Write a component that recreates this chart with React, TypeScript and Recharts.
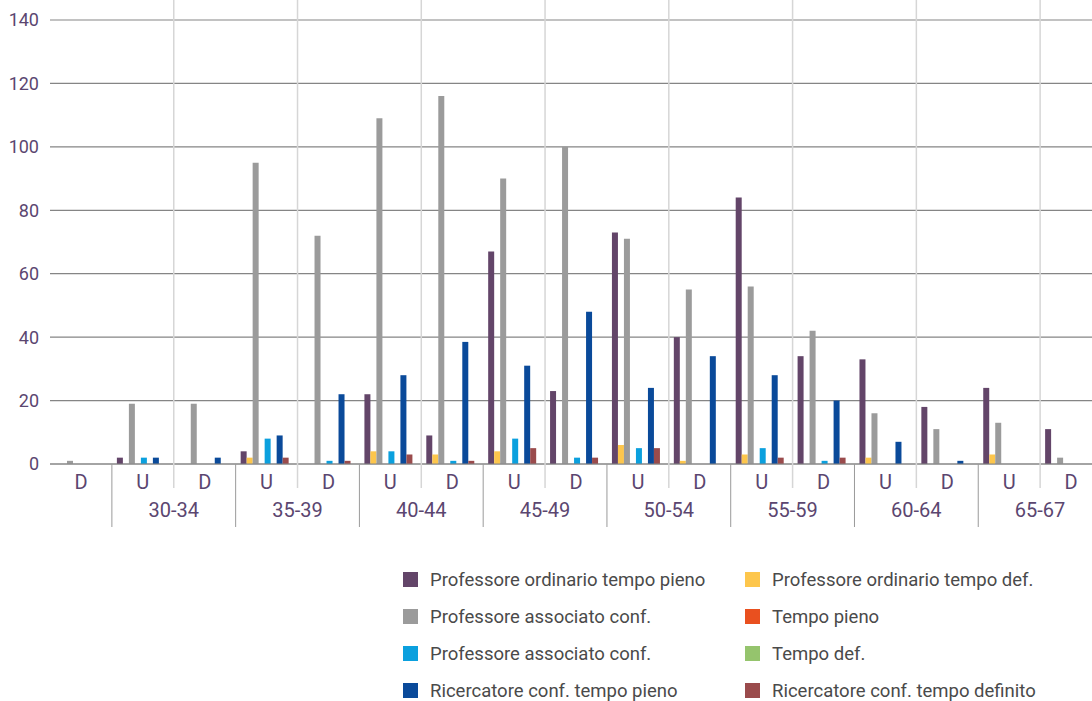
import React from "react";
import { BarChart, Bar, XAxis, YAxis, CartesianGrid, Legend } from "recharts";

// U/D per categoria, con fascia d'età
const sexLabels = ["D", "U", "D", "U", "D", "U", "D", "U", "D", "U", "D", "U", "D", "U", "D", "U", "D"];
const ageGroups = ["", "30-34", "30-34", "35-39", "35-39", "40-44", "40-44", "45-49", "45-49", "50-54", "50-54", "55-59", "55-59", "60-64", "60-64", "65-67", "65-67"];

const ordinarioPieno = [0, 2, 0, 4, 0, 22, 9, 67, 23, 73, 40, 84, 34, 33, 18, 24, 11];
const ordinarioDef = [0, 0, 0, 2, 0, 4, 3, 4, 0, 6, 1, 3, 0, 2, 0, 3, 0];
const associatoConf = [1, 19, 19, 95, 72, 109, 116, 90, 100, 71, 55, 56, 42, 16, 11, 13, 2];
const tempoPieno = [0, 0, 0, 0, 0, 0, 0, 0, 0, 0, 0, 0, 0, 0, 0, 0, 0];
const associatoConf2 = [0, 2, 0, 8, 1, 4, 1, 8, 2, 5, 0, 5, 1, 0, 0, 0, 0];
const tempoDef = [0, 0, 0, 0, 0, 0, 0, 0, 0, 0, 0, 0, 0, 0, 0, 0, 0];
const ricercatorePieno = [0, 2, 2, 9, 22, 28, 38.5, 31, 48, 24, 34, 28, 20, 7, 1, 0, 0];
const ricercatoreDefinito = [0, 0, 0, 2, 1, 3, 1, 5, 2, 5, 0, 2, 2, 0, 0, 0, 0];

const yTicks = [0, 20, 40, 60, 80, 100, 120, 140];

const SERIES = [
  { key: "s1", name: "Professore ordinario tempo pieno", color: "#634569", values: ordinarioPieno },
  { key: "s2", name: "Professore ordinario tempo def.", color: "#fdc64c", values: ordinarioDef },
  { key: "s3", name: "Professore associato conf.", color: "#9b9b9b", values: associatoConf },
  { key: "s4", name: "Tempo pieno", color: "#e9501f", values: tempoPieno },
  { key: "s5", name: "Professore associato conf.", color: "#0ba0de", values: associatoConf2 },
  { key: "s6", name: "Tempo def.", color: "#95c46d", values: tempoDef },
  { key: "s7", name: "Ricercatore conf. tempo pieno", color: "#0a4a9a", values: ricercatorePieno },
  { key: "s8", name: "Ricercatore conf. tempo definito", color: "#9a4b4c", values: ricercatoreDefinito },
];

const data = sexLabels.map((sex, i) => {
  const row: Record<string, any> = { sex, group: ageGroups[i], idx: i };
  SERIES.forEach((s) => {
    row[s.key] = s.values[i];
  });
  return row;
});

const AXIS_TEXT = "#5b4670";
const PLOT_TOP = 20;

function CategoryTick(props: any) {
  const { x, y, payload, index } = props;
  const half = payload?.offset ?? 31;
  const i = index ?? payload?.index ?? 0;
  const isU = sexLabels[i] === "U";
  return (
    <g>
      {isU && (
        <line x1={x - half} x2={x - half} y1={y} y2={y + 63} stroke="#9a9a9a" strokeWidth={1} />
      )}
      {!isU && i > 0 && (
        <line x1={x - half} x2={x - half} y1={0} y2={y + 24} stroke="#d6d6d6" strokeWidth={1.5} />
      )}
      <text x={x} y={y + 25} textAnchor="middle" fill={AXIS_TEXT} fontSize={20} fontFamily="Roboto, sans-serif">
        {payload.value}
      </text>
      {isU && (
        <text x={x + half} y={y + 53} textAnchor="middle" fill={AXIS_TEXT} fontSize={20} fontFamily="Roboto, sans-serif">
          {ageGroups[i]}
        </text>
      )}
    </g>
  );
}

// legenda su due colonne, nell'ordine delle serie
function LegendGrid() {
  return (
    <div
      style={{
        display: "grid",
        gridTemplateColumns: "342px 342px",
        gridAutoRows: "37px",
        fontFamily: "Roboto, sans-serif",
        fontSize: 18.5,
        color: "#4a4a4a",
      }}
    >
      {SERIES.map((s) => (
        <div key={s.key} style={{ display: "flex", alignItems: "center", whiteSpace: "nowrap" }}>
          <span style={{ width: 15, height: 15, background: s.color, marginRight: 12, flex: "none" }} />
          <span>{s.name}</span>
        </div>
      ))}
    </div>
  );
}

export default function App() {
  return (
    <div style={{ position: "absolute", left: 0, top: 0, width: 1092, height: 701, overflow: "hidden", background: "#fff" }}>
      <BarChart
        width={1102}
        height={701}
        data={data}
        margin={{ top: PLOT_TOP, right: 0, left: 0, bottom: 157 }}
        barCategoryGap={5}
        barGap={0}
      >
        <CartesianGrid vertical={false} stroke="#858585" strokeWidth={1.2} />
        <YAxis
          domain={[0, 140]}
          ticks={yTicks}
          width={50}
          axisLine={false}
          tickLine={false}
          tickSize={6}
          tickMargin={5}
          tick={{ fill: AXIS_TEXT, fontSize: 18, fontFamily: "Roboto, sans-serif" }}
        />
        <XAxis
          dataKey="sex"
          height={80}
          interval={0}
          tickLine={false}
          tickSize={0}
          tickMargin={0}
          axisLine={{ stroke: "#858585", strokeWidth: 1.2 }}
          tick={<CategoryTick />}
        />
        <Legend
          layout="vertical"
          align="center"
          verticalAlign="middle"
          wrapperStyle={{ left: 403, top: 561, width: 690, height: 150 }}
          content={<LegendGrid />}
        />
        {SERIES.map((s) => (
          <Bar key={s.key} dataKey={s.key} name={s.name} fill={s.color} isAnimationActive={false} />
        ))}
      </BarChart>
    </div>
  );
}
